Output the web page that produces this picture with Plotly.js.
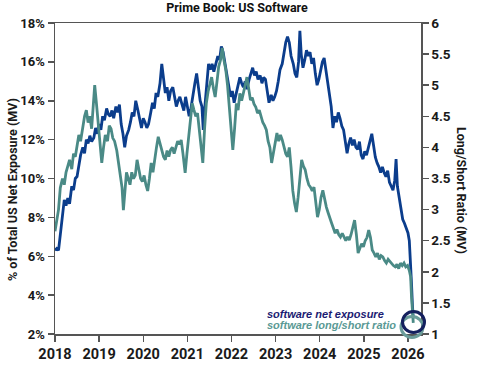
<!DOCTYPE html>
<html>
<head>
<meta charset="utf-8">
<script src="https://cdn.plot.ly/plotly-3.0.1.min.js"></script>
<style>html,body{margin:0;padding:0;background:#fff;}#chart{width:500px;height:374px;}</style>
</head>
<body>
<div id="chart"></div>
<script>
const chartTitle = "Prime Book: US Software";
const leftTitle = "% of Total US Net Exposure (MV)";
const rightTitle = "Long/Short Ratio (MV)";
const netName = "software net exposure";
const ratioName = "software long/short ratio";
const yearTicks = [2018, 2019, 2020, 2021, 2022, 2023, 2024, 2025, 2026];

const netYears = [2018.00,2018.04,2018.08,2018.12,2018.17,2018.21,2018.25,2018.29,2018.33,2018.38,2018.42,2018.46,2018.50,2018.54,2018.58,2018.63,2018.67,2018.71,2018.75,2018.79,2018.83,2018.88,2018.92,2018.96,
2019.00,2019.04,2019.08,2019.12,2019.17,2019.21,2019.25,2019.29,2019.33,2019.38,2019.42,2019.46,2019.50,2019.54,2019.58,2019.62,2019.67,2019.71,2019.75,2019.79,2019.83,2019.88,2019.92,2019.96,
2020.00,2020.04,2020.08,2020.12,2020.17,2020.21,2020.25,2020.29,2020.33,2020.38,2020.42,2020.46,2020.50,2020.54,2020.58,2020.62,2020.67,2020.71,2020.75,2020.79,2020.83,2020.88,2020.92,2020.96,
2021.00,2021.04,2021.08,2021.12,2021.17,2021.21,2021.25,2021.29,2021.33,2021.36,2021.40,2021.44,2021.48,2021.52,2021.56,2021.60,2021.65,2021.69,2021.73,2021.77,2021.81,2021.85,2021.90,2021.94,2021.98,
2022.02,2022.06,2022.10,2022.15,2022.19,2022.23,2022.27,2022.31,2022.35,2022.40,2022.44,2022.48,2022.52,2022.56,2022.60,2022.65,2022.69,2022.73,2022.77,2022.81,2022.85,2022.90,2022.94,2022.98,
2023.02,2023.06,2023.10,2023.15,2023.19,2023.23,2023.27,2023.31,2023.35,2023.40,2023.44,2023.48,2023.52,2023.55,2023.58,2023.62,2023.66,2023.70,2023.74,2023.78,2023.82,2023.86,2023.90,2023.94,2023.98,
2024.02,2024.06,2024.10,2024.14,2024.18,2024.22,2024.26,2024.30,2024.34,2024.38,2024.42,2024.46,2024.50,2024.54,2024.58,2024.62,2024.66,2024.70,2024.74,2024.78,2024.82,2024.86,2024.90,2024.94,2024.98,
2025.02,2025.06,2025.10,2025.14,2025.18,2025.22,2025.26,2025.30,2025.34,2025.38,2025.42,2025.46,2025.50,2025.54,2025.58,2025.62,2025.66,2025.70,2025.73,2025.76,2025.80,2025.84,2025.88,2025.92,2025.96,
2026.00,2026.03,2026.06,2026.08,2026.10,2026.12];
const netValues = [6.3,6.4,6.3,7.2,8.0,8.9,8.6,9.0,8.7,9.6,9.4,10.0,10.1,10.8,11.2,11.6,11.3,12.0,11.8,12.2,11.9,12.1,12.6,12.3,
12.8,12.5,13.2,13.0,13.6,13.3,13.2,13.5,13.1,13.7,13.4,13.8,12.8,12.3,11.6,12.2,12.5,12.9,13.4,13.2,14.0,13.5,13.0,12.6,
13.1,12.9,12.6,12.8,13.4,13.9,13.6,14.4,14.2,14.9,15.9,15.2,14.4,14.7,14.0,14.5,14.7,14.2,13.7,14.0,14.2,13.8,13.5,14.2,
13.7,13.2,13.6,14.3,14.9,15.4,14.6,14.0,13.7,12.5,13.8,14.9,15.9,15.6,15.9,15.5,16.0,16.3,16.1,16.8,16.5,15.9,15.4,14.8,14.2,
14.5,13.9,14.3,14.8,15.2,14.9,14.7,15.0,14.6,15.1,15.4,15.7,15.3,15.5,15.1,15.3,14.9,15.2,15.1,14.4,13.9,14.3,14.0,14.2,
14.5,15.0,15.6,15.9,16.5,17.0,17.3,17.0,16.3,15.9,15.4,15.2,16.0,17.6,16.4,15.7,16.1,16.6,16.3,16.5,15.9,16.2,15.4,14.8,15.1,
15.5,16.0,16.2,15.6,14.9,14.3,13.7,12.6,13.2,12.9,13.4,13.1,12.7,12.5,12.0,11.3,11.8,12.1,11.7,12.0,11.6,11.5,11.9,11.2,11.0,
11.4,11.2,11.6,11.9,12.3,11.7,11.1,10.8,10.6,10.3,10.6,10.3,10.1,10.4,9.8,9.6,9.4,9.9,11.0,9.6,9.0,8.4,7.9,7.7,7.4,
7.2,6.8,5.8,4.6,3.5,2.8];

const ratioYears = [2018.00,2018.04,2018.08,2018.12,2018.17,2018.21,2018.25,2018.29,2018.33,2018.38,2018.42,2018.46,2018.50,2018.54,2018.58,2018.63,2018.67,2018.71,2018.75,2018.79,2018.83,2018.87,2018.90,2018.94,2018.98,
2019.02,2019.06,2019.10,2019.14,2019.19,2019.23,2019.27,2019.31,2019.35,2019.40,2019.44,2019.48,2019.52,2019.55,2019.58,2019.62,2019.66,2019.70,2019.74,2019.78,2019.82,2019.86,2019.90,2019.94,2019.98,
2020.02,2020.06,2020.10,2020.14,2020.18,2020.22,2020.26,2020.30,2020.34,2020.38,2020.42,2020.46,2020.50,2020.54,2020.58,2020.62,2020.66,2020.70,2020.74,2020.78,2020.82,2020.86,2020.90,2020.95,2020.99,
2021.03,2021.07,2021.11,2021.15,2021.19,2021.23,2021.27,2021.31,2021.35,2021.39,2021.43,2021.47,2021.51,2021.55,2021.59,2021.63,2021.67,2021.71,2021.75,2021.79,2021.83,2021.87,2021.91,2021.95,2021.99,
2022.03,2022.07,2022.11,2022.15,2022.19,2022.23,2022.27,2022.31,2022.35,2022.39,2022.43,2022.47,2022.51,2022.55,2022.59,2022.63,2022.67,2022.71,2022.75,2022.79,2022.83,2022.87,2022.91,2022.95,2022.99,
2023.03,2023.07,2023.11,2023.15,2023.19,2023.23,2023.27,2023.31,2023.35,2023.39,2023.43,2023.47,2023.51,2023.55,2023.59,2023.63,2023.67,2023.71,2023.75,2023.79,2023.83,2023.87,2023.91,2023.95,2023.99,
2024.03,2024.07,2024.11,2024.15,2024.19,2024.23,2024.27,2024.31,2024.35,2024.39,2024.43,2024.47,2024.51,2024.55,2024.59,2024.63,2024.67,2024.71,2024.75,2024.79,2024.83,2024.87,2024.91,2024.95,2024.99,
2025.03,2025.07,2025.11,2025.15,2025.19,2025.23,2025.27,2025.31,2025.35,2025.39,2025.43,2025.47,2025.51,2025.55,2025.59,2025.63,2025.67,2025.71,2025.75,2025.79,2025.83,2025.87,2025.91,2025.95,2025.99,
2026.03,2026.06,2026.08,2026.10,2026.12];
const ratioValues = [2.65,2.8,3.0,3.35,3.5,3.4,3.6,3.7,3.8,3.65,3.9,3.85,4.0,4.2,4.1,4.35,4.5,4.6,4.4,4.5,4.3,4.7,5.0,4.7,4.4,
4.1,3.75,4.0,4.2,4.1,4.35,4.3,4.15,4.1,3.95,3.75,3.55,3.35,2.99,3.3,3.6,3.5,3.4,3.6,3.5,3.55,3.8,3.65,3.5,3.45,
3.55,3.4,3.3,3.5,3.75,3.6,3.85,4.0,4.17,4.05,3.95,3.85,3.8,3.95,3.85,3.96,4.0,3.9,4.0,4.1,4.05,4.12,3.9,3.59,3.9,
4.2,4.44,4.71,4.6,4.5,4.55,4.3,3.95,3.75,4.3,4.71,4.9,5.0,5.13,4.95,4.81,5.05,5.3,5.4,5.6,5.4,5.25,5.0,4.6,4.3,
3.96,4.3,4.71,4.6,4.87,4.75,4.9,5.0,5.13,4.9,4.76,4.8,4.7,4.65,4.55,4.6,4.49,4.4,4.35,4.28,4.1,4.0,3.75,3.9,4.05,
4.23,4.1,4.2,4.12,4.0,3.9,3.85,4.0,3.68,3.3,3.1,2.96,3.2,3.5,3.8,3.7,3.64,3.5,3.4,3.36,3.3,3.36,3.1,2.88,3.0,
3.2,3.31,3.15,3.04,2.95,2.85,2.78,2.7,2.62,2.68,2.6,2.56,2.62,2.56,2.5,2.56,2.51,2.6,2.7,2.83,2.6,2.3,2.38,2.45,2.4,
2.5,2.55,2.67,2.55,2.35,2.3,2.24,2.3,2.2,2.26,2.24,2.18,2.14,2.2,2.16,2.14,2.1,2.08,2.12,2.05,2.14,2.1,2.14,2.08,2.1,
2.02,1.92,1.6,1.35,1.18];

const navy = "#0b3d8c";
const teal = "#4a8a86";
const axisColor = "#555555";
const fontFam = "Roboto, 'Liberation Sans', sans-serif";

const traces = [
  {x: ratioYears, y: ratioValues, type: "scatter", mode: "lines", yaxis: "y2", name: ratioName,
   line: {color: teal, width: 2.8}, hoverinfo: "skip"},
  {x: netYears, y: netValues, type: "scatter", mode: "lines", name: netName,
   line: {color: navy, width: 2.8}, hoverinfo: "skip"}
];

const W = 500, H = 374, L = 55, R = 79, T = 23, B = 40;
function px(x) { return (x - L) / (W - L - R); }
function py(y) { return (H - B - y) / (H - T - B); }

const tickFont = (s) => ({size: s, family: fontFam, color: "#1a1a1a", weight: "bold"});

const layout = {
  width: W, height: H,
  margin: {l: L, r: R, t: T, b: B, pad: 0},
  paper_bgcolor: "#ffffff", plot_bgcolor: "#ffffff",
  showlegend: false,
  font: {family: fontFam, color: "#1a1a1a"},
  title: {text: "<b>" + chartTitle + "</b>", x: px(237), xref: "paper", xanchor: "center",
          y: 0.99, yref: "container", yanchor: "top", font: {size: 12.5, family: fontFam, color: "#111"}},
  xaxis: {range: [2018, 2026.295], tickvals: yearTicks, ticktext: yearTicks.map(String),
          showgrid: false, zeroline: false, showline: true, linecolor: axisColor, linewidth: 1.5, mirror: true,
          ticks: "outside", ticklen: 6, tickwidth: 1.5, tickcolor: axisColor,
          tickfont: tickFont(14.5)},
  yaxis: {range: [2, 18], dtick: 2, ticksuffix: "%", showgrid: false, zeroline: false,
          showline: true, linecolor: axisColor, linewidth: 1.5,
          ticks: "outside", ticklen: 6, tickwidth: 1.5, tickcolor: axisColor,
          tickfont: tickFont(13)},
  yaxis2: {range: [1, 6], dtick: 0.5, overlaying: "y", side: "right", showgrid: false, zeroline: false,
           showline: true, linecolor: axisColor, linewidth: 1.5,
           ticks: "outside", ticklen: 6, tickwidth: 1.5, tickcolor: axisColor,
           tickfont: tickFont(13.5)},
  annotations: [
    {text: "<b>" + leftTitle + "</b>", xref: "paper", yref: "paper", x: px(12), y: py(190),
     xanchor: "center", yanchor: "middle",
     textangle: -90, showarrow: false, font: {size: 12.5, family: fontFam, color: "#1a1a1a"}},
    {text: "<b>" + rightTitle + "</b>", xref: "paper", yref: "paper", x: px(461), y: py(191),
     xanchor: "center", yanchor: "middle",
     textangle: 90, showarrow: false, font: {size: 12.5, family: fontFam, color: "#1a1a1a"}},
    {text: "<b><i>" + netName + "</i></b>", xref: "paper", yref: "paper", x: px(386), y: py(314),
     xanchor: "right", yanchor: "middle", showarrow: false,
     font: {size: 11, family: "'Liberation Sans', sans-serif", color: "#1b1b72"}},
    {text: "<b><i>" + ratioName + "</i></b>", xref: "paper", yref: "paper", x: px(398), y: py(325),
     xanchor: "right", yanchor: "middle", showarrow: false,
     font: {size: 11, family: "'Liberation Sans', sans-serif", color: "#5a9994"}}
  ],
  shapes: [
    {type: "circle", xref: "paper", yref: "paper", xsizemode: "pixel", ysizemode: "pixel",
     xanchor: px(412), yanchor: py(327), x0: -11, x1: 11, y0: -10.5, y1: 10.5,
     line: {color: "#6a9c9a", width: 3}},
    {type: "circle", xref: "paper", yref: "paper", xsizemode: "pixel", ysizemode: "pixel",
     xanchor: px(413.5), yanchor: py(322), x0: -11, x1: 11, y0: -10.5, y1: 10.5,
     line: {color: "#14205e", width: 3}}
  ]
};

Plotly.newPlot("chart", traces, layout, {displayModeBar: false, staticPlot: true});
</script>
</body>
</html>
